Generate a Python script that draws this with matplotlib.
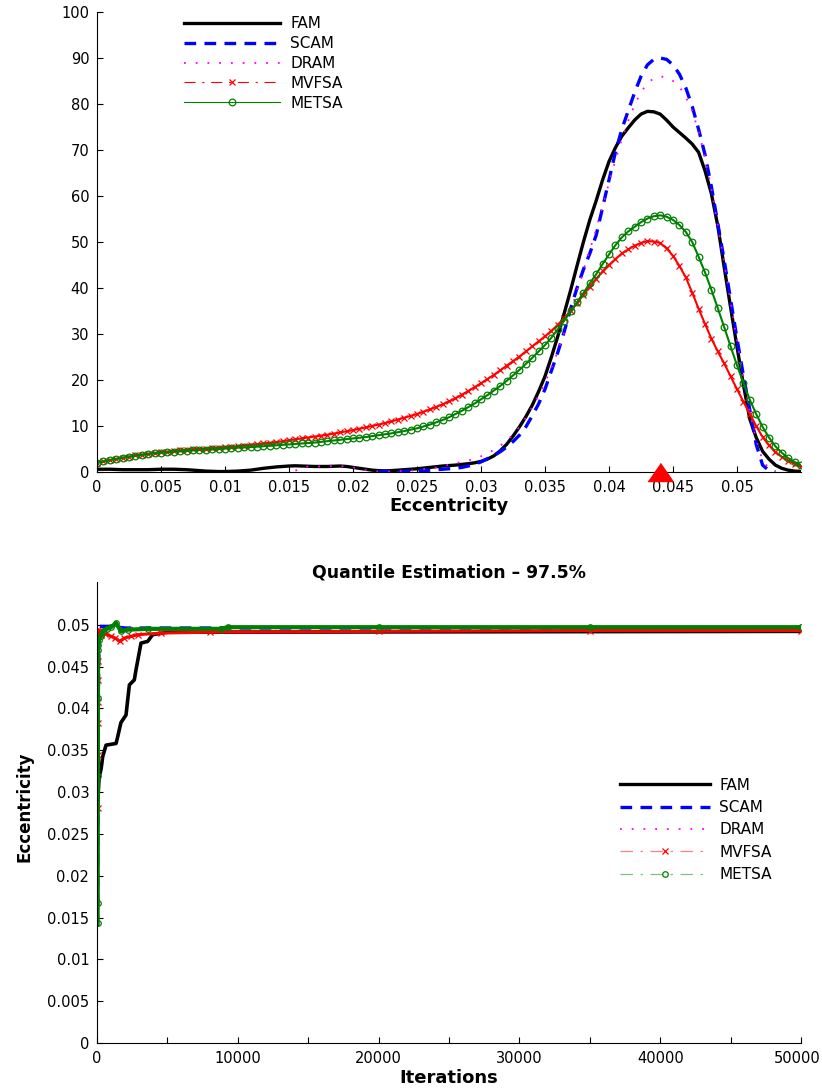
import numpy as np
import matplotlib
matplotlib.use("Agg")
import matplotlib.pyplot as plt
from matplotlib.lines import Line2D
from matplotlib.ticker import MultipleLocator, FuncFormatter

plt.rcParams["font.family"] = ["DejaVu Sans"]

nan = np.nan

# ---------------- posterior densities of eccentricity ----------------
ecc = np.round(np.arange(111) * 0.0005, 4)  # 0 ... 0.055
true_ecc = 0.044

fam = [
    0.6, 0.6, 0.6, 0.55, 0.5, 0.5, 0.5, 0.5, 0.5, 0.55,
    0.6, 0.6, 0.6, 0.55, 0.5, 0.4, 0.3, 0.2, 0.15, 0.1,
    0.1, 0.15, 0.2, 0.3, 0.4, 0.6, 0.8, 0.95, 1.1, 1.2,
    1.3, 1.35, 1.3, 1.25, 1.2, 1.2, 1.2, 1.25, 1.3, 1.2,
    1.0, 0.8, 0.6, 0.4, 0.3, 0.25, 0.3, 0.4, 0.5, 0.6,
    0.7, 0.85, 1.0, 1.15, 1.3, 1.4, 1.5, 1.65, 1.8, 2.0,
    2.3, 2.8, 3.5, 4.6, 6.0, 7.8, 9.8, 12.0, 14.5, 17.5,
    20.8, 25.0, 29.5, 34.5, 39.5, 44.8, 50.0, 54.8, 59.0, 63.5,
    67.5, 70.5, 73.0, 74.8, 76.5, 77.8, 78.4, 78.3, 77.8, 76.5,
    75.0, 73.8, 72.6, 71.3, 69.5, 65.5, 60.5, 53.5, 44.5, 35.8,
    27.2, 19.0, 11.5, 7.5, 4.5, 2.8, 1.5, 0.8, 0.4, 0.2,
    0.1]

scam = [
    nan, nan, nan, nan, nan, nan, nan, nan, nan, nan,
    nan, nan, nan, nan, nan, nan, nan, nan, nan, nan,
    nan, nan, nan, nan, nan, nan, nan, nan, nan, nan,
    nan, nan, nan, nan, nan, nan, nan, nan, nan, nan,
    nan, nan, nan, nan, 0.1, 0.1, 0.1, 0.1, 0.15, 0.2,
    0.25, 0.3, 0.4, 0.5, 0.6, 0.7, 0.8, 1.0, 1.3, 1.7,
    2.2, 2.9, 3.6, 4.4, 5.4, 6.6, 8.0, 9.8, 12.2, 14.8,
    18.0, 22.0, 26.0, 30.5, 35.5, 40.0, 44.0, 47.5, 51.5, 57.5,
    63.5, 69.5, 74.5, 78.5, 82.5, 86.0, 88.5, 89.7, 90.0, 89.7,
    88.5, 86.5, 83.5, 79.5, 74.5, 69.0, 62.0, 54.0, 46.0, 37.5,
    29.0, 21.0, 13.5, 6.0, 1.5, 0.3, 0.0, nan, nan, nan,
    nan]

dram = [
    nan, nan, nan, nan, nan, nan, nan, nan, nan, nan,
    nan, nan, nan, nan, nan, nan, nan, nan, nan, nan,
    nan, nan, nan, nan, nan, nan, nan, nan, nan, nan,
    nan, 0.3, 0.9, 1.2, 1.2, 1.2, 1.2, 1.3, 1.3, 1.2,
    1.0, 0.7, 0.4, 0.2, 0.1, 0.1, 0.1, 0.15, 0.2, 0.3,
    0.4, 0.6, 0.8, 1.0, 1.3, 1.6, 1.9, 2.2, 2.5, 2.9,
    3.4, 4.0, 4.8, 5.7, 6.8, 8.1, 9.8, 11.8, 14.1, 16.6,
    19.4, 22.7, 26.2, 30.3, 34.8, 39.3, 43.8, 48.3, 52.8, 57.8,
    62.8, 67.8, 72.3, 76.3, 79.8, 82.6, 84.5, 85.6, 86.0, 85.8,
    85.0, 83.8, 81.5, 78.5, 74.0, 68.5, 61.5, 53.5, 45.5, 37.0,
    28.5, 20.5, 13.0, 7.0, 2.5, 0.8, 0.2, nan, nan, nan,
    nan]

mvfsa = [
    2.0, 2.3, 2.6, 2.85, 3.1, 3.35, 3.6, 3.8, 4.0, 4.15,
    4.3, 4.45, 4.6, 4.7, 4.8, 4.9, 5.0, 5.1, 5.2, 5.3,
    5.4, 5.5, 5.6, 5.75, 5.9, 6.05, 6.2, 6.35, 6.5, 6.7,
    6.9, 7.1, 7.3, 7.5, 7.7, 7.9, 8.1, 8.35, 8.6, 8.85,
    9.1, 9.4, 9.7, 10.0, 10.3, 10.65, 11.0, 11.4, 11.8, 12.2,
    12.6, 13.1, 13.6, 14.15, 14.7, 15.35, 16.0, 16.8, 17.6, 18.45,
    19.3, 20.2, 21.1, 22.1, 23.1, 24.1, 25.1, 26.2, 27.3, 28.4,
    29.5, 30.7, 32.0, 33.5, 35.0, 36.7, 38.5, 40.3, 42.0, 43.6,
    45.0, 46.3, 47.5, 48.4, 49.2, 49.8, 50.2, 50.1, 49.8, 48.6,
    47.0, 44.8, 42.3, 39.0, 35.5, 32.2, 29.0, 26.2, 23.6, 20.8,
    18.0, 15.3, 12.6, 10.0, 7.6, 5.8, 4.3, 3.3, 2.5, 1.8,
    1.2]

metsa = [
    2.0, 2.3, 2.6, 2.85, 3.1, 3.3, 3.5, 3.7, 3.9, 4.05,
    4.2, 4.3, 4.4, 4.5, 4.6, 4.7, 4.8, 4.85, 4.9, 5.0,
    5.1, 5.2, 5.3, 5.35, 5.4, 5.5, 5.6, 5.7, 5.8, 5.9,
    6.0, 6.1, 6.2, 6.3, 6.4, 6.55, 6.7, 6.85, 7.0, 7.15,
    7.3, 7.45, 7.6, 7.8, 8.0, 8.2, 8.4, 8.65, 8.9, 9.2,
    9.5, 9.9, 10.3, 10.8, 11.3, 11.9, 12.6, 13.3, 14.1, 14.9,
    15.8, 16.7, 17.7, 18.7, 19.8, 21.0, 22.2, 23.5, 24.8, 26.2,
    27.6, 29.2, 31.0, 32.9, 34.9, 36.9, 38.9, 41.0, 43.0, 45.2,
    47.3, 49.3, 51.0, 52.3, 53.3, 54.3, 55.1, 55.6, 55.8, 55.5,
    54.8, 53.7, 52.2, 50.0, 46.8, 43.4, 39.6, 35.6, 31.5, 27.3,
    23.2, 19.4, 15.7, 12.6, 9.8, 7.5, 5.6, 4.2, 3.0, 2.2,
    1.5]

# ---------------- running 97.5% quantile estimates ----------------
fam_it = [60, 150, 284, 350, 400, 640, 1350, 1470, 1700, 2060, 2180, 2300,
          2650, 2770, 3125, 3600, 3950, 5000, 50000]
fam_q = [0.0290, 0.0318, 0.0327, 0.0335, 0.0342, 0.0356, 0.0358, 0.0366,
         0.0383, 0.0392, 0.0410, 0.0428, 0.0434, 0.0446, 0.0478, 0.0480,
         0.0488, 0.0491, 0.0492]

scam_it = [40, 50, 60, 80, 100, 160, 1000, 2000, 5000, 50000]
scam_q = [0.0140, 0.0180, 0.0250, 0.0330, 0.0420, 0.0498, 0.0498, 0.0496,
          0.0496, 0.0496]

dram_it = [40, 60, 80, 100, 200, 1000, 5000, 50000]
dram_q = [0.0200, 0.0300, 0.0400, 0.0470, 0.0495, 0.0496, 0.0496, 0.0496]

mvfsa_it = [40, 50, 60, 70, 80, 90, 100, 150, 300, 600, 1000, 1300, 1600,
            1940, 2400, 2890, 4540, 8000, 20000, 35000, 50000]
mvfsa_q = [0.0281, 0.0344, 0.0382, 0.0408, 0.0434, 0.0456, 0.0494, 0.0490,
           0.0488, 0.0489, 0.0486, 0.0484, 0.0480, 0.0484, 0.0486, 0.0488,
           0.0490, 0.0491, 0.0492, 0.0493, 0.0493]

metsa_it = [40, 50, 60, 70, 80, 100, 150, 250, 400, 700, 1000, 1350, 1700,
            2180, 3600, 8800, 9280, 20000, 35000, 50000]
metsa_q = [0.0143, 0.0167, 0.0319, 0.0412, 0.0470, 0.0476, 0.0482, 0.0486,
           0.0492, 0.0495, 0.0497, 0.0502, 0.0492, 0.0494, 0.0495, 0.0495,
           0.0497, 0.0497, 0.0497, 0.0497]

labels = ["FAM", "SCAM", "DRAM", "MVFSA", "METSA"]
iter_max = 50000

# shared line styles
FAM_STYLE = dict(color="black", lw=2.4)
SCAM_STYLE = dict(color="blue", lw=2.4, linestyle=(0, (3.5, 2.5)))
DRAM_STYLE = dict(color="magenta", lw=1.3, linestyle=(0, (1, 5.5)))

# ---------------- figure ----------------
W, H = 822, 1090
fig = plt.figure(figsize=(W / 100, H / 100), dpi=100)
ax1 = fig.add_axes([97 / W, (H - 472) / H, 704 / W, 460 / H])
ax2 = fig.add_axes([97 / W, (H - 1043) / H, 704 / W, 461 / H])

TICK_PAD = 5.5
for ax in (ax1, ax2):
    ax.spines["top"].set_visible(False)
    ax.spines["right"].set_visible(False)
    for s in ("left", "bottom"):
        ax.spines[s].set_linewidth(0.8)
    ax.tick_params(which="both", direction="in", length=4.5, width=0.8,
                   labelsize=10.5, pad=TICK_PAD)

fmt_g = FuncFormatter(lambda v, p: f"{v:g}")

# densities
ax1.plot(ecc, fam, **FAM_STYLE)
ax1.plot(ecc, scam, **SCAM_STYLE)
ax1.plot(ecc, dram, **DRAM_STYLE)
ax1.plot(ecc, mvfsa, color="red", lw=1.5, marker="x", markersize=4.6,
         markeredgewidth=0.9)
ax1.plot(ecc, metsa, color="green", lw=1.5, marker="o", markersize=4.8,
         markerfacecolor="none", markeredgewidth=0.9)
ax1.plot([true_ecc], [0], marker=[(-1, -0.72), (1, -0.72), (0, 0.72)],
         markersize=18, color="red", clip_on=False, zorder=5)

ax1.set_xlim(0, 0.055)
ax1.set_ylim(0, 100)
ax1.set_xticks(np.round(np.arange(0, 0.0501, 0.005), 3))
ax1.set_yticks(np.arange(0, 101, 10))
ax1.xaxis.set_major_formatter(fmt_g)
ax1.yaxis.set_major_formatter(fmt_g)
ax1.set_xlabel("Eccentricity", fontsize=13, fontweight="bold", labelpad=2)

top_handles = [
    Line2D([], [], **FAM_STYLE),
    Line2D([], [], **SCAM_STYLE),
    Line2D([], [], **DRAM_STYLE),
    Line2D([], [], color="red", lw=0.8, linestyle=(0, (10, 6, 2, 6)),
           marker="x", markersize=4.6, markeredgewidth=0.9),
    Line2D([], [], color="green", lw=0.8, marker="o", markersize=4.8,
           markerfacecolor="none", markeredgewidth=0.9),
]
ax1.legend(handles=top_handles, labels=labels, loc="upper left",
           bbox_to_anchor=(0.1236, 0.991), frameon=False, fontsize=11,
           handlelength=6.3, handletextpad=0.65, labelspacing=0.32,
           borderpad=0, borderaxespad=0, numpoints=1)

# quantile traces
ax2.plot(fam_it, fam_q, color="black", lw=2.6)
ax2.plot(scam_it, scam_q, color="blue", lw=2.4, linestyle=(0, (3.5, 2.5)))
ax2.plot(dram_it, dram_q, color="magenta", lw=1.6, linestyle=(0, (1, 4)))
ax2.plot(mvfsa_it, mvfsa_q, color="red", lw=2.2, marker="x", markersize=4,
         markeredgewidth=0.9)
ax2.plot(metsa_it, metsa_q, color="green", lw=3.0, marker="o", markersize=4,
         markerfacecolor="none", markeredgewidth=0.9)

ax2.set_xlim(0, iter_max)
ax2.set_ylim(0, 0.0551)
ax2.xaxis.set_major_locator(MultipleLocator(10000))
ax2.xaxis.set_minor_locator(MultipleLocator(5000))
# the last label is drawn separately, nudged inwards so it stays on the page
ax2.xaxis.set_major_formatter(
    FuncFormatter(lambda v, p: "" if v >= iter_max else f"{v:.0f}"))
ax2.annotate(f"{iter_max}", xy=(iter_max, 0), xycoords="data",
             xytext=(-3, -TICK_PAD), textcoords="offset points",
             ha="center", va="top", fontsize=10.5, annotation_clip=False)
ax2.set_yticks(np.round(np.arange(0, 0.0501, 0.005), 3))
ax2.yaxis.set_major_formatter(fmt_g)
ax2.set_xlabel("Iterations", fontsize=13, fontweight="bold", labelpad=2.5)
ax2.set_ylabel("Eccentricity", fontsize=12, fontweight="bold")
ax2.yaxis.set_label_coords(-0.0909, 0.5126)
ax2.set_title("Quantile Estimation \u2013 97.5%", fontsize=12.4,
              fontweight="bold", pad=3)

bottom_handles = [
    Line2D([], [], **FAM_STYLE),
    Line2D([], [], **SCAM_STYLE),
    Line2D([], [], **DRAM_STYLE),
    Line2D([], [], color="#ff8080", lw=0.9, linestyle=(0, (10, 6, 2, 6)),
           marker="x", markersize=4, markeredgecolor="red",
           markeredgewidth=0.9),
    Line2D([], [], color="#80c080", lw=0.9, linestyle=(0, (10, 6, 2, 6)),
           marker="o", markersize=4, markerfacecolor="none",
           markeredgecolor="green", markeredgewidth=0.9),
]
ax2.legend(handles=bottom_handles, labels=labels, loc="upper left",
           bbox_to_anchor=(0.743, 0.5755), frameon=False, fontsize=11,
           handlelength=5.9, handletextpad=0.6, labelspacing=0.48,
           borderpad=0, borderaxespad=0, numpoints=1)

fig.savefig("out.png", dpi=100)
